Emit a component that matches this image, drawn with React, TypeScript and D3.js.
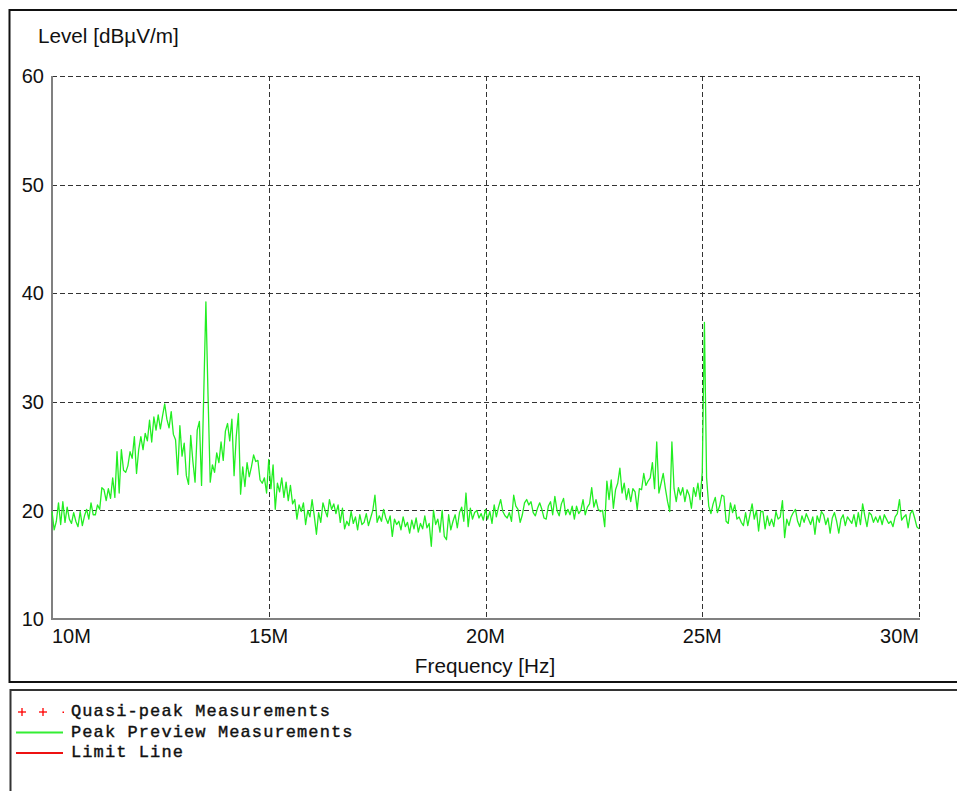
import React from "react";
import * as d3 from "d3";

const yTicks = [10, 20, 30, 40, 50, 60];
const xTicks = [10, 15, 20, 25, 30];
const xTickLabels = ["10M", "15M", "20M", "25M", "30M"];
const startMHz = 10;
const stepMHz = 0.05;

const peakValues: number[] = [
  19.9, 18.2, 19.0, 20.7, 18.7, 20.8, 18.9, 20.3, 19.2, 18.8,
  19.8, 19.0, 18.5, 19.9, 18.6, 19.5, 20.1, 19.2, 20.7, 19.6,
  19.6, 20.5, 20.1, 22.1, 21.9, 20.9, 22.0, 21.1, 23.0, 21.2,
  25.4, 21.6, 25.6, 23.7, 23.5, 24.1, 25.4, 24.8, 26.8, 23.4,
  25.6, 26.8, 25.6, 27.1, 26.4, 28.3, 26.3, 28.6, 27.4, 28.8,
  27.5, 28.7, 29.8, 28.4, 27.6, 29.1, 27.0, 26.5, 23.3, 27.8,
  25.0, 26.2, 23.2, 22.4, 26.9, 24.5, 22.6, 27.4, 28.2, 22.3,
  30.6, 39.2, 30.5, 22.6, 24.2, 23.5, 25.3, 24.4, 26.3, 24.6,
  27.3, 28.0, 26.4, 28.4, 23.2, 26.8, 28.9, 21.5, 24.0, 22.2,
  24.4, 23.1, 24.0, 25.1, 24.5, 24.6, 22.8, 22.5, 23.0, 21.6,
  24.7, 22.0, 24.2, 20.1, 22.5, 21.7, 23.0, 21.2, 22.6, 20.9,
  22.3, 20.6, 21.0, 19.2, 20.5, 19.9, 20.7, 18.7, 20.0, 19.4,
  21.0, 19.5, 17.8, 19.8, 18.9, 20.7, 20.0, 19.4, 21.0, 20.1,
  20.6, 19.7, 20.5, 18.9, 20.2, 18.3, 19.0, 18.6, 19.9, 18.8,
  19.4, 18.2, 19.6, 18.7, 18.9, 19.7, 18.6, 19.3, 20.0, 21.4,
  18.9, 19.5, 19.0, 20.1, 19.3, 18.8, 19.5, 17.6, 19.2, 18.7,
  19.0, 18.2, 19.4, 18.5, 18.9, 17.9, 19.1, 18.3, 19.3, 18.0,
  18.8, 18.3, 19.5, 18.4, 18.8, 16.7, 20.0, 18.7, 19.2, 18.0,
  20.0, 17.6, 17.3, 19.6, 18.2, 19.0, 19.6, 18.4, 19.8, 20.3,
  19.0, 21.6, 18.5, 20.2, 19.2, 19.8, 20.0, 19.3, 19.7, 19.1,
  20.1, 19.2, 19.9, 18.8, 20.5, 19.4, 20.3, 21.0, 19.9, 19.5,
  19.3, 19.8, 19.0, 21.4, 20.4, 20.1, 18.9, 19.6, 20.7, 21.0,
  20.5, 20.8, 19.8, 19.5, 20.2, 20.7, 20.1, 19.3, 19.2, 20.4,
  20.8, 19.6, 21.3, 20.0, 19.5, 20.6, 21.1, 19.6, 20.1, 19.6,
  20.4, 19.2, 20.4, 19.7, 20.0, 21.0, 19.6, 20.3, 20.6, 22.1,
  20.3, 21.0, 20.1, 19.9, 20.0, 18.5, 22.7, 21.0, 22.8, 20.2,
  21.9, 22.5, 23.9, 21.6, 22.5, 21.0, 22.0, 20.8, 22.0, 21.7,
  20.1, 22.0, 21.9, 23.4, 22.3, 22.7, 23.0, 24.4, 22.0, 26.3,
  21.6, 22.5, 23.4, 22.0, 20.8, 19.9, 26.3, 22.0, 20.8, 22.1,
  21.4, 22.1, 20.8, 21.9, 21.4, 20.2, 22.1, 21.3, 22.5, 21.0,
  23.5, 37.3, 23.0, 20.4, 19.7, 20.6, 21.2, 19.8, 20.4, 21.4,
  21.3, 19.0, 18.8, 20.7, 19.8, 20.5, 19.2, 19.4, 18.9, 18.6,
  19.8, 18.6, 19.6, 20.6, 19.2, 20.0, 18.1, 19.9, 19.9, 18.3,
  19.5, 18.6, 19.2, 18.5, 19.9, 19.2, 19.4, 20.9, 17.5, 19.2,
  18.6, 19.4, 19.8, 20.1, 19.0, 18.5, 19.5, 18.9, 19.7, 19.2,
  18.7, 19.4, 17.8, 19.5, 18.9, 19.9, 19.6, 18.7, 19.3, 17.9,
  19.3, 19.8, 19.0, 17.9, 19.2, 19.6, 18.6, 19.4, 19.1, 18.8,
  19.6, 18.5, 19.8, 18.7, 20.6, 19.5, 18.5, 19.8, 19.6, 18.9,
  19.4, 18.9, 19.5, 18.7, 19.6, 19.2, 18.8, 19.0, 18.5, 19.4,
  19.7, 21.0, 19.1, 19.4, 19.6, 18.4, 19.7, 20.0, 19.3, 18.5, 18.3,
];

const legendItems = [
  { label: "Quasi-peak Measurements", kind: "plus", color: "#ff0000" },
  { label: "Peak Preview Measurements", kind: "line", color: "#33ee33" },
  { label: "Limit Line", kind: "line", color: "#ee1111" },
];

export default function App() {
  const W = 957;
  const H = 791;
  const left = 52, right = 919, top = 76, bottom = 619;
  const x = d3.scaleLinear().domain([10, 30]).range([left, right]);
  const y = d3.scaleLinear().domain([10, 60]).range([bottom, top]);
  const data = peakValues.map((v, i) => ({ f: startMHz + i * stepMHz, v }));
  const line = d3
    .line<{ f: number; v: number }>()
    .x((d) => x(d.f))
    .y((d) => y(d.v));
  const sans = "'Liberation Sans', Arial, sans-serif";
  const mono = "'Liberation Mono', 'Courier New', monospace";

  return (
    <svg
      width={W}
      height={H}
      style={{ position: "absolute", left: 0, top: 0, background: "#fff" }}
    >
      <rect x={0} y={0} width={W} height={H} fill="#fff" />
      {/* outer chart frame */}
      <rect x={9.5} y={10} width={W + 10} height={672} fill="none" stroke="#111" strokeWidth={2} />
      {/* legend frame */}
      <rect x={10.5} y={690} width={W + 10} height={120} fill="none" stroke="#333" strokeWidth={2} />

      {/* grid */}
      {yTicks.filter((t) => t > 10).map((t) => (
        <line key={"gy" + t} x1={left} x2={right} y1={Math.round(y(t)) + 0.5} y2={Math.round(y(t)) + 0.5}
          stroke="#333" strokeWidth={1} strokeDasharray="5,3" />
      ))}
      {xTicks.filter((t) => t > 10).map((t) => (
        <line key={"gx" + t} x1={Math.round(x(t)) + 0.5} x2={Math.round(x(t)) + 0.5} y1={top} y2={bottom}
          stroke="#333" strokeWidth={1} strokeDasharray="5,3" />
      ))}
      {/* axes */}
      <line x1={left} x2={left} y1={top} y2={bottom + 1} stroke="#808080" strokeWidth={2} />
      <line x1={left} x2={right + 1} y1={bottom} y2={bottom} stroke="#808080" strokeWidth={2} />

      {/* y tick labels */}
      {yTicks.map((t) => (
        <text key={"yl" + t} x={44} y={y(t)} dy="0.36em" textAnchor="end"
          fontFamily={sans} fontSize={20} fill="#111">{t}</text>
      ))}
      {/* x tick labels */}
      {xTicks.map((t, i) => (
        <text key={"xl" + t} x={i === 0 ? left : i === xTicks.length - 1 ? right : x(t)} y={643}
          textAnchor={i === 0 ? "start" : i === xTicks.length - 1 ? "end" : "middle"}
          fontFamily={sans} fontSize={20} fill="#111">{xTickLabels[i]}</text>
      ))}
      <text x={38} y={43} fontFamily={sans} fontSize={20.7} fill="#111">Level [dBµV/m]</text>
      <text x={485} y={673} textAnchor="middle" fontFamily={sans} fontSize={20.7} fill="#111">Frequency [Hz]</text>

      {/* trace */}
      <path d={line(data) || ""} fill="none" stroke="#22ee22" strokeWidth={1.3} strokeLinejoin="round" />

      {/* legend */}
      {legendItems.map((it, i) => {
        const ly = 712 + i * 20.5;
        return (
          <g key={it.label}>
            {it.kind === "plus" ? (
              <g fill={it.color} stroke={it.color} strokeWidth={1.3}>
                <line x1={18} x2={26} y1={ly} y2={ly} />
                <line x1={22} x2={22} y1={ly - 4} y2={ly + 4} />
                <line x1={39} x2={47} y1={ly} y2={ly} />
                <line x1={43} x2={43} y1={ly - 4} y2={ly + 4} />
                <rect x={62.5} y={ly - 0.5} width={1.5} height={1.5} stroke="none" />
              </g>
            ) : (
              <line x1={16} x2={63} y1={ly} y2={ly} stroke={it.color} strokeWidth={2} />
            )}
            <text x={71} y={ly + 4} fontFamily={mono} fontSize={17} letterSpacing={1.1}
              fill="#111" stroke="#111" strokeWidth={0.4}>{it.label}</text>
          </g>
        );
      })}
    </svg>
  );
}
